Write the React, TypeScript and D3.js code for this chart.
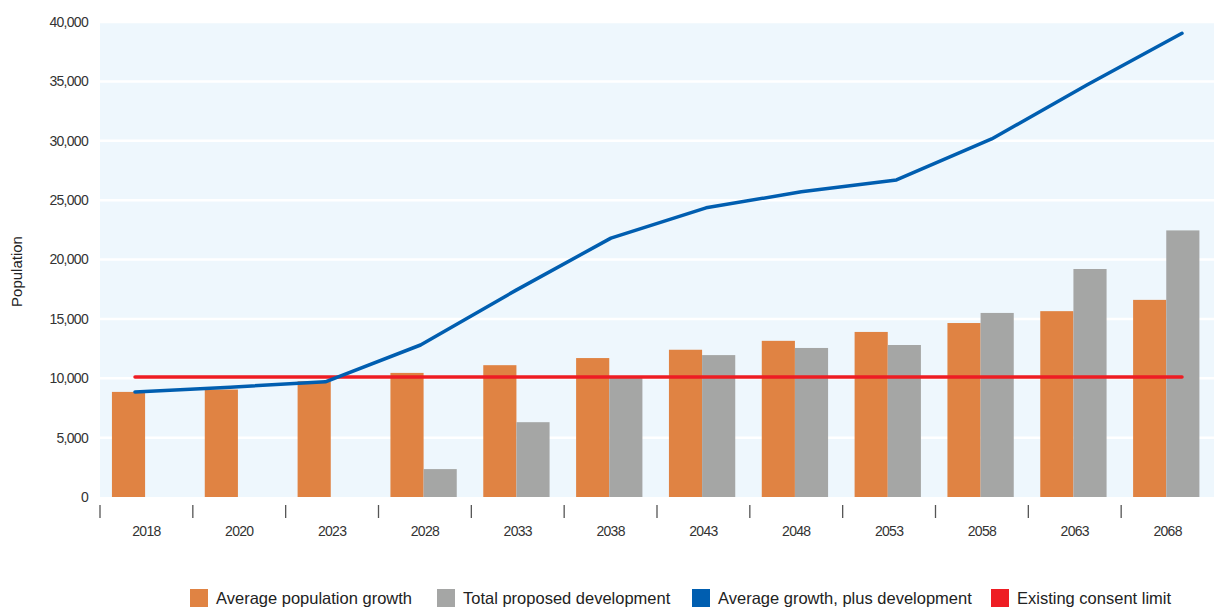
import React, { useEffect, useRef } from "react";
import * as d3 from "d3";

const years = ["2018", "2020", "2023", "2028", "2033", "2038", "2043", "2048", "2053", "2058", "2063", "2068"];
const avgGrowth = [8850, 9050, 9750, 10450, 11100, 11700, 12400, 13150, 13900, 14650, 15650, 16600];
const proposedDev = [0, 0, 0, 2350, 6300, 10100, 11950, 12550, 12800, 15500, 19200, 22450];
const growthPlusDev = [8850, 9250, 9700, 12800, 17400, 21800, 24350, 25700, 26700, 30150, 34700, 39050];
const consentLimit = [10100, 10100, 10100, 10100, 10100, 10100, 10100, 10100, 10100, 10100, 10100, 10100];
const yTicks = [0, 5000, 10000, 15000, 20000, 25000, 30000, 35000, 40000];
const legendItems = [
  { label: "Average population growth", color: "#e08343" },
  { label: "Total proposed development", color: "#a5a6a5" },
  { label: "Average growth, plus development", color: "#005eb0" },
  { label: "Existing consent limit", color: "#ee1d23" },
];

const W = 1219;
const H = 610;

const App: React.FC = () => {
  const svgRef = useRef<SVGSVGElement | null>(null);

  useEffect(() => {
    if (!svgRef.current) return;
    const svg = d3.select(svgRef.current);
    svg.selectAll("*").remove();

    const left = 100;
    const right = 1214;
    const top = 22;
    const bottom = 497;

    const x = d3.scaleBand<string>().domain(years).range([left, right]).paddingInner(0).paddingOuter(0);
    const x1 = d3
      .scaleBand<string>()
      .domain(["avg", "dev"])
      .range([0, x.bandwidth()])
      .paddingInner(0)
      .paddingOuter(0.4)
      .align(0.45);
    // the lines in the original sit on a slightly wider spacing than the bars
    const xl = d3.scalePoint<string>().domain(years).range([135, 1182]);
    const y = d3.scaleLinear().domain([0, 40000]).range([bottom, top]);

    // background
    svg
      .append("rect")
      .attr("x", left)
      .attr("y", top)
      .attr("width", right - left)
      .attr("height", bottom - top)
      .attr("fill", "#eef7fd");

    // grid
    svg
      .append("g")
      .selectAll("line")
      .data(yTicks.filter((d) => d > 0))
      .join("line")
      .attr("x1", left)
      .attr("x2", right)
      .attr("y1", (d) => y(d))
      .attr("y2", (d) => y(d))
      .attr("stroke", "#ffffff")
      .attr("stroke-width", 2.5);

    // y labels
    svg
      .append("g")
      .selectAll("text")
      .data(yTicks)
      .join("text")
      .attr("x", 88)
      .attr("y", (d) => y(d))
      .attr("dy", "0.35em")
      .attr("text-anchor", "end")
      .attr("font-family", "Liberation Sans, Arial, sans-serif")
      .attr("font-size", 14)
      .attr("fill", "#333")
      .attr("letter-spacing", -0.7)
      .text((d) => d3.format(",")(d));

    svg
      .append("text")
      .attr("transform", `translate(22,${(top + bottom) / 2 + 12}) rotate(-90)`)
      .attr("text-anchor", "middle")
      .attr("font-family", "Liberation Sans, Arial, sans-serif")
      .attr("font-size", 15)
      .attr("fill", "#222")
      .text("Population");

    // bars
    const groups = svg
      .append("g")
      .selectAll("g")
      .data(years)
      .join("g")
      .attr("transform", (d) => `translate(${x(d)},0)`);

    groups
      .append("rect")
      .attr("x", x1("avg")!)
      .attr("width", x1.bandwidth())
      .attr("y", (_, i) => y(avgGrowth[i]))
      .attr("height", (_, i) => bottom - y(avgGrowth[i]))
      .attr("fill", "#e08343");

    groups
      .append("rect")
      .attr("x", x1("dev")!)
      .attr("width", x1.bandwidth())
      .attr("y", (_, i) => y(proposedDev[i]))
      .attr("height", (_, i) => bottom - y(proposedDev[i]))
      .attr("fill", "#a5a6a5");

    // x axis ticks + labels
    svg
      .append("g")
      .selectAll("line")
      .data(years)
      .join("line")
      .attr("x1", (d) => x(d)!)
      .attr("x2", (d) => x(d)!)
      .attr("y1", 505)
      .attr("y2", 518)
      .attr("stroke", "#555")
      .attr("stroke-width", 1.3);

    svg
      .append("g")
      .selectAll("text")
      .data(years)
      .join("text")
      .attr("x", (d) => x(d)! + x.bandwidth() / 2)
      .attr("y", 531)
      .attr("dy", "0.35em")
      .attr("text-anchor", "middle")
      .attr("font-family", "Liberation Sans, Arial, sans-serif")
      .attr("font-size", 14)
      .attr("letter-spacing", -0.7)
      .attr("fill", "#333")
      .text((d) => d);

    // lines
    const line = d3
      .line<number>()
      .x((_, i) => xl(years[i])!)
      .y((d) => y(d));

    svg
      .append("path")
      .datum(consentLimit)
      .attr("d", line)
      .attr("fill", "none")
      .attr("stroke", "#ee1d23")
      .attr("stroke-width", 3.5)
      .attr("stroke-linecap", "round");

    svg
      .append("path")
      .datum(growthPlusDev)
      .attr("d", line)
      .attr("fill", "none")
      .attr("stroke", "#005eb0")
      .attr("stroke-width", 3.5)
      .attr("stroke-linecap", "round")
      .attr("stroke-linejoin", "round");

    // legend
    const legendX = [190, 437, 692, 991];
    const lg = svg
      .append("g")
      .selectAll("g")
      .data(legendItems)
      .join("g")
      .attr("transform", (_, i) => `translate(${legendX[i]},589)`);
    lg.append("rect").attr("width", 18).attr("height", 18).attr("fill", (d) => d.color);
    lg.append("text")
      .attr("x", 26)
      .attr("y", 9)
      .attr("dy", "0.35em")
      .attr("font-family", "Liberation Sans, Arial, sans-serif")
      .attr("font-size", 16.5)
      .attr("fill", "#222")
      .text((d) => d.label);
  }, []);

  return (
    <svg
      ref={svgRef}
      width={W}
      height={H}
      style={{ position: "absolute", left: 0, top: 0, background: "#fff" }}
    />
  );
};

export default App;
